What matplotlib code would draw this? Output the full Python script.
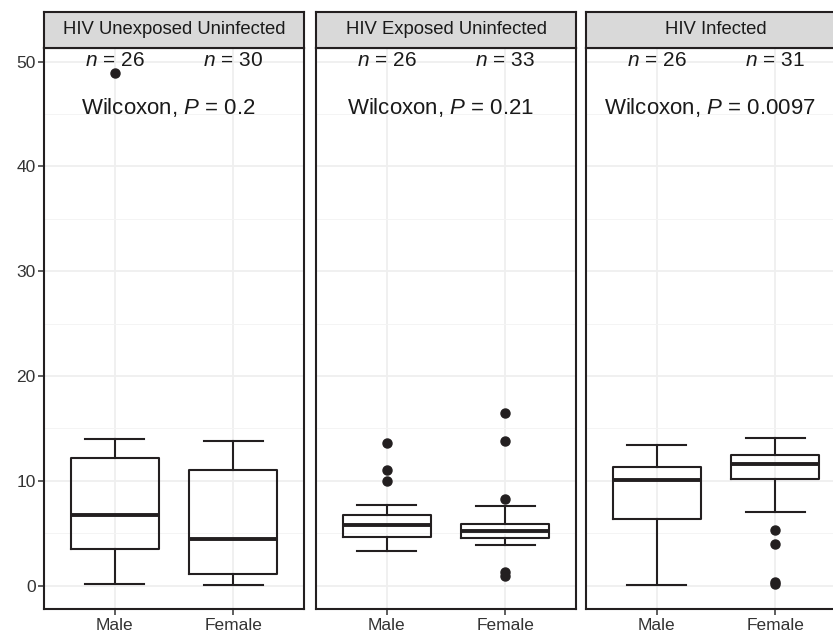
import matplotlib
matplotlib.use("Agg")
import matplotlib.pyplot as plt

# facet groups and categories
groups = ["HIV Unexposed Uninfected", "HIV Exposed Uninfected", "HIV Infected"]
sexes = ["Male", "Female"]
n_counts = [[26, 30], [26, 33], [26, 31]]
p_values = ["0.2", "0.21", "0.0097"]

# box statistics per group, [male, female]
whisker_low = [[0.16, 0.07], [3.31, 3.88], [0.07, 7.06]]
q1 = [[3.5, 1.15], [4.62, 4.55], [6.33, 10.18]]
median = [[6.75, 4.46], [5.79, 5.19], [10.09, 11.64]]
q3 = [[12.16, 11.07], [6.72, 5.86], [11.3, 12.44]]
whisker_high = [[14.03, 13.78], [7.67, 7.6], [13.42, 14.06]]
outliers = [
    [[48.95], []],
    [[13.59, 11.04, 9.99], [16.5, 13.8, 8.24, 1.3, 0.9]],
    [[], [5.28, 3.98, 0.4, 0.15]],
]

plt.rcParams["font.family"] = ["Liberation Sans", "DejaVu Sans"]
plt.rcParams["mathtext.fontset"] = "custom"
plt.rcParams["mathtext.it"] = "Liberation Sans:italic"
plt.rcParams["mathtext.rm"] = "Liberation Sans"

W, H = 833, 635
fig = plt.figure(figsize=(W / 100, H / 100), dpi=100)

LINE = "#231F20"
panel_w = 260
panel_left = [44, 316, 586]
panel_top = 47.5
panel_bottom = 609.3
strip_top = 12

for i, name in enumerate(groups):
    left = panel_left[i] / W
    ax = fig.add_axes([left, (H - panel_bottom) / H, panel_w / W,
                       (panel_bottom - panel_top) / H])
    stats = []
    for j, sex in enumerate(sexes):
        stats.append({
            "whislo": whisker_low[i][j],
            "q1": q1[i][j],
            "med": median[i][j],
            "q3": q3[i][j],
            "whishi": whisker_high[i][j],
            "fliers": outliers[i][j],
            "label": sex,
        })
    ax.bxp(
        stats,
        positions=[1, 2],
        widths=0.75,
        capwidths=0.5,
        showfliers=True,
        boxprops=dict(color=LINE, linewidth=1.5),
        whiskerprops=dict(color=LINE, linewidth=1.5),
        capprops=dict(color=LINE, linewidth=1.5),
        medianprops=dict(color=LINE, linewidth=2.8, solid_capstyle="butt"),
        flierprops=dict(marker="o", markerfacecolor=LINE,
                        markeredgecolor=LINE, markersize=6.5),
    )
    ax.set_xlim(0.4, 2.6)
    ax.set_ylim(-2.25, 51.35)
    ax.set_yticks([0, 10, 20, 30, 40, 50])
    ax.set_yticks([5, 15, 25, 35, 45], minor=True)
    ax.set_xticks([1, 2])
    ax.set_xticklabels(sexes)
    ax.grid(which="major", color="#EFEFEF", linewidth=1.3)
    ax.grid(which="minor", axis="y", color="#F4F4F4", linewidth=0.7)
    ax.set_axisbelow(True)
    ax.tick_params(which="minor", length=0)
    ax.tick_params(which="major", length=4, width=1.1, color="#333333",
                   labelsize=12.5, labelcolor="#333333", pad=2)
    if i > 0:
        ax.tick_params(axis="y", which="major", length=0, labelleft=False)
    for s in ax.spines.values():
        s.set_color(LINE)
        s.set_linewidth(1.5)

    for j in range(2):
        ax.text(j + 1, 50.1, rf"$\it{{n}}$ = {n_counts[i][j]}",
                ha="center", va="center", fontsize=15, color="#1A1A1A")
    ax.text(1.45, 45.6, rf"Wilcoxon, $\it{{P}}$ = {p_values[i]}",
            ha="center", va="center", fontsize=16, color="#1A1A1A")

    # facet strip
    sax = fig.add_axes([left, (H - panel_top) / H, panel_w / W,
                        (panel_top - strip_top) / H])
    sax.set_facecolor("#D9D9D9")
    sax.set_xticks([])
    sax.set_yticks([])
    for s in sax.spines.values():
        s.set_color(LINE)
        s.set_linewidth(1.5)
    sax.text(0.5, 0.5, name, ha="center", va="center",
             fontsize=13.3, color="#1A1A1A", transform=sax.transAxes)

fig.savefig("out.png", dpi=100)
